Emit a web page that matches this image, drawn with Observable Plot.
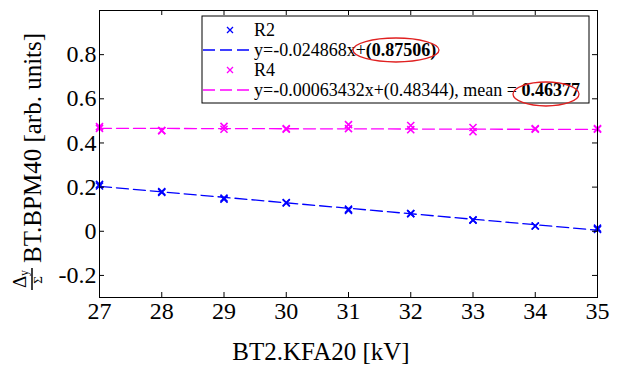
<!DOCTYPE html>
<html><head><meta charset="utf-8">
<script src="https://cdn.jsdelivr.net/npm/d3@7"></script>
<script src="https://cdn.jsdelivr.net/npm/@observablehq/plot@0.6"></script>
<style>body{margin:0;background:#fff} svg{font-family:"Liberation Serif","Times New Roman",serif}</style>
</head><body><div id="chart"></div>
<script>
// ---- data ----
const kv = [27, 28, 29, 30, 31, 32, 33, 34, 35];
const r2A = [0.212, 0.176, 0.150, 0.130, 0.100, 0.080, 0.050, 0.024, 0.014];
const r2B = [0.205, 0.180, 0.145, 0.128, 0.095, 0.080, 0.052, 0.024, 0.008];
const r4A = [0.474, 0.456, 0.475, 0.465, 0.483, 0.479, 0.470, 0.465, 0.465];
const r4B = [0.466, 0.456, 0.462, 0.462, 0.465, 0.460, 0.451, 0.462, 0.462];
const seriesNames = ["R2", "R4"];
const seriesColors = ["#0000ff", "#ff00ff"];
const fitSlope = [-0.024868, -0.00063432];
const fitIntercept = [0.87506, 0.48344];
const r4Mean = 0.46377;
const xTicks = [27, 28, 29, 30, 31, 32, 33, 34, 35];
const yTicks = [-0.2, 0, 0.2, 0.4, 0.6, 0.8];
const xDomain = [27, 35];
const yDomain = [-0.3, 1.0];

// ---- layout ----
const W = 623, H = 365, mL = 99, mR = 26, mT = 10, mB = 68;
const plotH = H - mT - mB, plotW = W - mL - mR;

const pts = [];
kv.forEach((k, i) => {
  pts.push({x: k, y: r2A[i], s: "R2"}, {x: k, y: r2B[i], s: "R2"});
  pts.push({x: k, y: r4A[i], s: "R4"}, {x: k, y: r4B[i], s: "R4"});
});
const fitLine = seriesNames.flatMap((s, j) => xDomain.map(x => ({x, y: fitSlope[j] * x + fitIntercept[j], s})));

const chart = Plot.plot({
  width: W, height: H,
  marginLeft: mL, marginRight: mR, marginTop: mT, marginBottom: mB,
  style: {fontFamily: '"Liberation Serif", serif', fontSize: "24px", background: "white", color: "black"},
  x: {domain: xDomain, label: null},
  y: {domain: yDomain, label: null},
  color: {domain: seriesNames, range: seriesColors},
  marks: [
    Plot.line(fitLine, {x: "x", y: "y", z: "s", stroke: "s", strokeDasharray: "12,5", strokeWidth: 1.3}),
    Plot.dot(pts, {x: "x", y: "y", stroke: "s", symbol: "times", r: 3.3, strokeWidth: 1.6}),
    Plot.tickX(xTicks, {x: d => d, insetTop: plotH - 5, stroke: "black"}),
    Plot.tickX(xTicks, {x: d => d, insetBottom: plotH - 5, stroke: "black"}),
    Plot.tickY(yTicks, {y: d => d, insetRight: plotW - 5, stroke: "black"}),
    Plot.tickY(yTicks, {y: d => d, insetLeft: plotW - 5, stroke: "black"}),
    Plot.frame({stroke: "black", strokeWidth: 1}),
    Plot.axisX({ticks: xTicks, tickSize: 0, tickPadding: 4, label: null, fontSize: 24, fontVariant: "normal", tickFormat: d => String(d)}),
    Plot.axisY({ticks: yTicks, tickSize: 0, tickPadding: 3, label: null, fontSize: 24, fontVariant: "normal", tickFormat: d => String(d)})
  ]
});
document.getElementById("chart").appendChild(chart);

const svg = d3.select(chart);
const font = '"Liberation Serif", serif';

// x label
svg.append("text").attr("x", 321).attr("y", 360).attr("text-anchor", "middle")
  .attr("font-size", 25).attr("fill", "black").text("BT2.KFA20 [kV]");

// y label (rotated) with fraction
const gy = svg.append("g").attr("transform", "translate(30,155) rotate(-90)")
  .attr("fill", "black").attr("text-anchor", "start");
gy.append("text").attr("x", -108).attr("y", 11).attr("font-size", 25).text("BT.BPM40 [arb. units]");
gy.append("text").attr("x", -133).attr("y", -4).attr("font-size", 19).text("Δ");
gy.append("text").attr("x", -121).attr("y", -2).attr("font-size", 12).text("y");
gy.append("line").attr("x1", -135).attr("x2", -113).attr("y1", 2).attr("y2", 2).attr("stroke", "black").attr("stroke-width", 1.5);
gy.append("text").attr("x", -125).attr("y", 12).attr("font-size", 13).attr("text-anchor", "middle").text("Σ");

// legend
const lg = svg.append("g").attr("font-size", 18).attr("fill", "black").attr("text-anchor", "start");
lg.append("rect").attr("x", 202).attr("y", 16).attr("width", 387).attr("height", 87)
  .attr("fill", "white").attr("stroke", "black").attr("stroke-width", 1);
const rowsY = [30, 50, 70, 90];
function cross(cx, cy, c) {
  lg.append("path").attr("d", `M${cx-3},${cy-3}L${cx+3},${cy+3}M${cx-3},${cy+3}L${cx+3},${cy-3}`)
    .attr("stroke", c).attr("stroke-width", 1.3).attr("fill", "none");
}
cross(230, rowsY[0], seriesColors[0]);
lg.append("text").attr("x", 254).attr("y", rowsY[0] + 6).text(seriesNames[0]);
lg.append("line").attr("x1", 203).attr("x2", 250).attr("y1", rowsY[1]).attr("y2", rowsY[1])
  .attr("stroke", seriesColors[0]).attr("stroke-dasharray", "12,5").attr("stroke-width", 1.3);
const t1 = lg.append("text").attr("x", 254).attr("y", rowsY[1] + 6);
t1.append("tspan").text(`y=${fitSlope[0]}x+`);
t1.append("tspan").attr("font-weight", "bold").text(`(${fitIntercept[0].toFixed(5)})`);
cross(230, rowsY[2], seriesColors[1]);
lg.append("text").attr("x", 254).attr("y", rowsY[2] + 6).text(seriesNames[1]);
lg.append("line").attr("x1", 203).attr("x2", 250).attr("y1", rowsY[3]).attr("y2", rowsY[3])
  .attr("stroke", seriesColors[1]).attr("stroke-dasharray", "12,5").attr("stroke-width", 1.3);
const t2 = lg.append("text").attr("x", 254).attr("y", rowsY[3] + 6);
t2.append("tspan").text(`y=${fitSlope[1]}x+(${fitIntercept[1]}), mean = `);
t2.append("tspan").attr("font-weight", "bold").text(String(r4Mean));
// red ellipses
lg.append("ellipse").attr("cx", 396).attr("cy", 50).attr("rx", 43).attr("ry", 12)
  .attr("fill", "none").attr("stroke", "#e02020").attr("stroke-width", 1.3);
lg.append("ellipse").attr("cx", 546).attr("cy", 94).attr("rx", 33).attr("ry", 12)
  .attr("fill", "none").attr("stroke", "#e02020").attr("stroke-width", 1.3);

// force the serif face on every text
svg.selectAll("text").attr("font-family", font);
</script></body></html>
